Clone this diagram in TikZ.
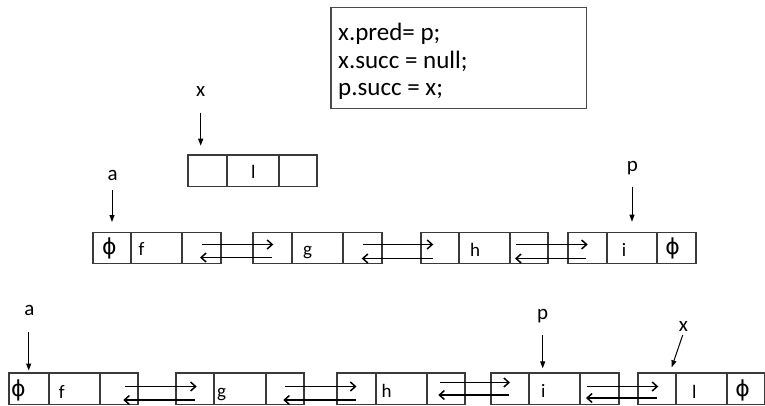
\documentclass[tikz,border=0pt]{standalone}
\usepackage{fontspec}
\setmainfont{Carlito}
\newfontfamily\symfont{DejaVu Sans}
\usetikzlibrary{arrows.meta,calc}
\definecolor{boxgray}{HTML}{3A3A3A}
\definecolor{codegray}{HTML}{4A4A4A}

% one cell of a list element: name, left x, right x, top y, bottom y
\newcommand\cellbox[5]{%
  \node[cellst, minimum width={(#3)-(#2)}, minimum height={(#5)-(#4)}]
    (#1) at ({((#2)+(#3))/2},{((#4)+(#5))/2}) {};}

% pair of links between two elements: from, to,
% forward start dx, forward end dx, forward dy,
% backward start dx, backward end dx, backward dy (offsets from cell centres)
\newcommand\links[8]{%
  \draw[fwd] ($(#1.center)+(#3,#5)$) -- ($(#2.center)+(#4,#5)$);
  \draw[fwd] ($(#2.center)+(#6,#8)$) -- ($(#1.center)+(#7,#8)$);}

\begin{document}
\begin{tikzpicture}[x=1pt,y=-1pt,
  cellst/.style={draw=boxgray, line width=1.2pt, inner sep=0pt, outer sep=0pt},
  ctext/.style={font=\fontsize{19}{19}\selectfont, inner sep=0pt, anchor=base},
  phit/.style={font=\symfont\fontsize{22}{22}\selectfont, inner sep=0pt},
  lbl/.style={font=\fontsize{21}{21}\selectfont, inner sep=0pt, anchor=base},
  codetext/.style={font=\fontsize{25}{25}\selectfont, inner sep=0pt, anchor=base west},
  codebox/.style={draw=codegray, line width=1.3pt, inner sep=0pt, outer sep=0pt},
  fwd/.style={line width=1.1pt, -{Straight Barb[length=5pt,width=9pt,line width=1.5pt]}},
  ptr/.style={line width=1pt, -{Triangle[length=7pt,width=5pt]}},
]
\useasboundingbox (0,0) rectangle (765,405);

% code box
\node[codebox, minimum width=255.7, minimum height=101] (code) at (458.85,57.8) {};
\node[codetext] (code1) at (338,40) {x.pred= p;};
\node[codetext] (code2) at (338,68.3) {x.succ = null;};
\node[codetext] (code3) at (338,95) {p.succ = x;};

% new element x
\cellbox{x1}{188}{227}{155}{186.7}
\cellbox{x2}{227}{279}{155}{186.7}
\cellbox{x3}{279}{317}{155}{186.7}
\node[ctext] (tx2) at (253.3,178.3) {l};
\node[lbl] (lx) at (200.7,96.7) {x};
\draw[ptr] ($(lx.base)+(0,16)$) -- ($(x1.north)+(-6.8,-9.3)$);

% first list
\cellbox{f1}{93}{131}{232.5}{263.5}
\cellbox{f2}{131}{182}{232.5}{263.5}
\cellbox{f3}{182}{221}{232.5}{263.5}
\cellbox{g1}{253}{292}{232.5}{263.5}
\cellbox{g2}{292}{343}{232.5}{263.5}
\cellbox{g3}{343}{382}{232.5}{263.5}
\cellbox{h1}{421}{459}{232.5}{263.5}
\cellbox{h2}{459}{510}{232.5}{263.5}
\cellbox{h3}{510}{548}{232.5}{263.5}
\cellbox{i1}{568}{607}{232.5}{263.5}
\cellbox{i2}{607}{657}{232.5}{263.5}
\cellbox{i3}{657}{696}{232.5}{263.5}

\node[phit] (tf1) at (109.3,248) {ϕ};
\node[ctext] (tf2) at (141.5,255) {f};
\node[ctext] (tg2) at (307.7,255) {g};
\node[ctext] (th2) at (475,256) {h};
\node[ctext] (ti2) at (624,256) {i};
\node[phit] (ti3) at (672.7,248) {ϕ};

\links{f3}{g1}{0.2}{0.8}{-3.5}{-0.8}{-1.5}{9.5}
\links{g3}{h1}{0.2}{-6.7}{-3.5}{-7.3}{-0.8}{10.5}
\links{h3}{i1}{-13}{0.2}{-3.5}{-1.8}{-14}{10.5}

\node[lbl] (la1) at (112.7,180.7) {a};
\draw[ptr] ($(la1.base)+(-0.7,9.3)$) -- ($(f1.north)+(0,-10.5)$);
\node[lbl] (lp1) at (632.3,171.5) {p};
\draw[ptr] ($(lp1.base)+(-0.3,15.2)$) -- ($(i2.north)+(0,-10.8)$);

% second list
\cellbox{a1}{9}{49}{373}{404.3}
\cellbox{a2}{49}{100}{373}{404.3}
\cellbox{a3}{100}{138}{373}{404.3}
\cellbox{b1}{176}{214}{373}{404.3}
\cellbox{b2}{214}{266}{373}{404.3}
\cellbox{b3}{266}{304}{373}{404.3}
\cellbox{c1}{337}{376}{373}{404.3}
\cellbox{c2}{376}{427}{373}{404.3}
\cellbox{c3}{427}{465}{373}{404.3}
\cellbox{d1}{491}{529}{373}{404.3}
\cellbox{d2}{529}{580}{373}{404.3}
\cellbox{d3}{580}{619}{373}{404.3}
\cellbox{e1}{638}{676}{373}{404.3}
\cellbox{e2}{676}{727}{373}{404.3}
\cellbox{e3}{727}{764.4}{373}{404.3}

\node[phit] (ta1) at (18.3,390) {ϕ};
\node[ctext] (ta2) at (61.7,398) {f};
\node[ctext] (tb2) at (221.7,397) {g};
\node[ctext] (tc2) at (386.7,397) {h};
\node[ctext] (td2) at (543.3,397) {i};
\node[ctext] (te2) at (694.3,398) {l};
\node[phit] (te3) at (742.7,390) {ϕ};

\links{a3}{b1}{6}{1.7}{-2.15}{0}{4.3}{11.35}
\links{b3}{c1}{0}{0}{-2.15}{-1}{-1.7}{11.35}
\links{c3}{d1}{-6.5}{0}{-6.15}{-0.7}{-7.7}{6.35}
\links{d3}{e1}{-12.8}{1.3}{-2.15}{-0.3}{-13.5}{9.35}

\node[lbl] (la2) at (29.3,315.7) {a};
\draw[ptr] ($(la2.base)+(-0.6,16.3)$) -- ($(a1.north)+(-0.3,-2.5)$);
\node[lbl] (lp2) at (542.7,319) {p};
\draw[ptr] ($(lp2.base)+(0,16)$) -- ($(d2.north)+(-11.8,-4.7)$);
\node[lbl] (lx2) at (683.3,331.7) {x};
\draw[ptr] ($(lx2.base)+(-0.6,3.3)$) -- ($(e1.north east)+(-4.3,-5.7)$);
\end{tikzpicture}
\end{document}
